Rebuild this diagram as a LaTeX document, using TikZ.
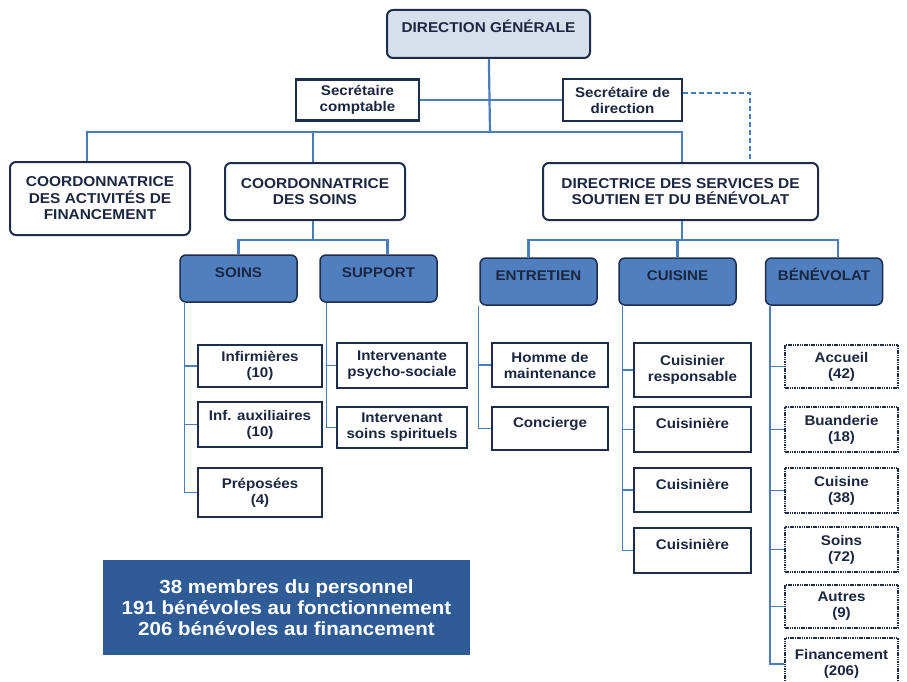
\documentclass[tikz,border=0pt]{standalone}
\usepackage{fontspec}
\setmainfont[FakeStretch=1.08]{Liberation Sans}
\definecolor{navy}{HTML}{1E2D4C}
\definecolor{inkblue}{HTML}{1C2640}
\definecolor{linkblue}{HTML}{4A7EBB}
\definecolor{headfill}{HTML}{D6DFEC}
\definecolor{deptfill}{HTML}{4F7FBE}
\definecolor{sumfill}{HTML}{2F5C96}

\begin{document}
\begin{tikzpicture}[x=1pt,y=-1pt]
\tikzset{box/.style n args={2}{draw=navy,line width=2pt,align=center,inner sep=0pt,text=inkblue,
    minimum width=#1,minimum height=#2,font=\bfseries\fontsize{14}{16}\selectfont}}
\tikzset{top/.style 2 args={box={#1}{#2},rounded corners=6pt,fill=headfill,font=\bfseries\fontsize{14.2}{16.5}\selectfont}}
\tikzset{coord/.style 2 args={box={#1}{#2},rounded corners=6pt,fill=white,font=\bfseries\fontsize{14.3}{16.5}\selectfont}}
\tikzset{dept/.style={box={117}{47},rounded corners=6pt,fill=deptfill,line width=1.5pt,text height=10pt,text depth=12pt}}
\tikzset{staff/.style 2 args={box={#1}{#2},fill=white,line width=2.6pt}}
\tikzset{high/.style={text height=10pt,text depth=#1}}
\tikzset{benev/.style={box={113}{#1},fill=white,line width=2.2pt,dash pattern=on 1.5pt off 0.8pt}}
\tikzset{link/.style={draw=linkblue,line width=2.2pt}}
\tikzset{sublink/.style={draw=linkblue,line width=1.5pt}}

\clip (0,0) rectangle (907,682);
\fill[white] (0,0) rectangle (907,682);

\node [top={203}{48},high=12.5pt] (dg) at (488.5,34) {DIRECTION GÉNÉRALE};
\node [staff={123}{41}] (sc) at (357.5,100) {Secrétaire\\comptable};
\node [staff={119}{42}] (sd) at (622.5,100) {Secrétaire de\\direction};
\node [coord={180}{73}] (fin) at (100,198.5) {COORDONNATRICE\\DES ACTIVITÉS DE\\FINANCEMENT};
\node [coord={180}{57}] (csoins) at (315,191.5) {COORDONNATRICE\\DES SOINS};
\node [coord={275}{57}] (dssb) at (680.5,191.5) {DIRECTRICE DES SERVICES DE\\SOUTIEN ET DU BÉNÉVOLAT};

\node [dept] (soins) at (238.5,278.5) {SOINS};
\node [dept] (support) at (378.5,278.5) {SUPPORT};
\node [dept] (entretien) at (538.5,281.5) {ENTRETIEN};
\node [dept] (cuisine) at (677.5,281.5) {CUISINE};
\node [dept] (benevolat) at (824,281.5) {BÉNÉVOLAT};

\node [staff={124}{42}] (inf) at (260,366) {Infirmières\\(10)};
\node [staff={124}{45}] (infaux) at (260,424.5) {Inf. auxiliaires\\(10)};
\node [staff={124}{49}] (prep) at (260,492.5) {Préposées\\(4)};
\node [staff={130}{45}] (psy) at (402,365.5) {Intervenante\\psycho-sociale};
\node [staff={130}{41}] (spir) at (402,427.5) {Intervenant\\soins spirituels};
\node [staff={116}{44}] (homme) at (550,365) {Homme de\\maintenance};
\node [staff={116}{43},high=13pt] (conc) at (550,428.5) {Concierge};
\node [staff={117}{54}] (cres) at (692.5,370) {Cuisinier\\responsable};
\node [staff={117}{45},high=12pt] (cuis1) at (692.5,429.5) {Cuisinière};
\node [staff={117}{44},high=12pt] (cuis2) at (692.5,490) {Cuisinière};
\node [staff={117}{45},high=12pt] (cuis3) at (692.5,550.5) {Cuisinière};

\node [benev=43] (accueil) at (841.5,366.5) {Accueil\\(42)};
\node [benev=45] (buand) at (841.5,429.5) {Buanderie\\(18)};
\node [benev=45] (bcuis) at (841.5,490.5) {Cuisine\\(38)};
\node [benev=45] (bsoins) at (841.5,549.5) {Soins\\(72)};
\node [benev=43] (autres) at (841.5,606.5) {Autres\\(9)};
\node [benev=52] (financ) at (841.5,664) {Financement\\(206)};

\node [fill=sumfill,text=white,minimum width=367,minimum height=95,inner sep=0pt,align=center,
    font=\bfseries\fontsize{19}{21}\selectfont] (total) at (286.5,607.5)
    {38 membres du personnel\\191 bénévoles au fonctionnement\\206 bénévoles au financement};

\coordinate (bus) at (490,132);
\coordinate (sbus) at (313,240);
\coordinate (dbus) at (682,240);

\draw [link] (dg) -- (bus);
\draw [link] (sc) -- (sd);
\draw [link] ([xshift=-13pt]fin.north) |- (bus);
\draw [link] (csoins.north -| sbus) |- (bus);
\draw [link] (dssb.north -| dbus) |- (bus);
\draw [link,dashed,dash pattern=on 5pt off 3pt] ([yshift=7pt]sd.east) -| ([xshift=69.5pt]dssb.north);
\draw [link] (csoins.south -| sbus) -- (sbus);
\draw [link] (sbus) -| (soins.north);
\draw [link] (sbus) -| ([xshift=9pt]support.north);
\draw [link] (dssb.south -| dbus) -- (dbus);
\draw [link] (dbus) -| ([xshift=-10pt]entretien.north);
\draw [link] (dbus) -| (cuisine.north);
\draw [link] (dbus) -| ([xshift=14pt]benevolat.north);

\foreach \c in {inf,infaux,prep}
  \draw [sublink] ([xshift=5pt]soins.south west) |- (\c.west);
\foreach \c in {psy,spir}
  \draw [sublink] ([xshift=7pt]support.south west) |- (\c.west);
\foreach \c in {homme,conc}
  \draw [sublink] ([xshift=-1pt]entretien.south west) |- (\c.west);
\foreach \c in {cres,cuis1,cuis2,cuis3}
  \draw [sublink] ([xshift=4pt]cuisine.south west) |- (\c.west);
\foreach \c in {accueil,buand,bcuis,bsoins,autres,financ}
  \draw [sublink] ([xshift=5pt]benevolat.south west) |- (\c.west);
\end{tikzpicture}
\end{document}
